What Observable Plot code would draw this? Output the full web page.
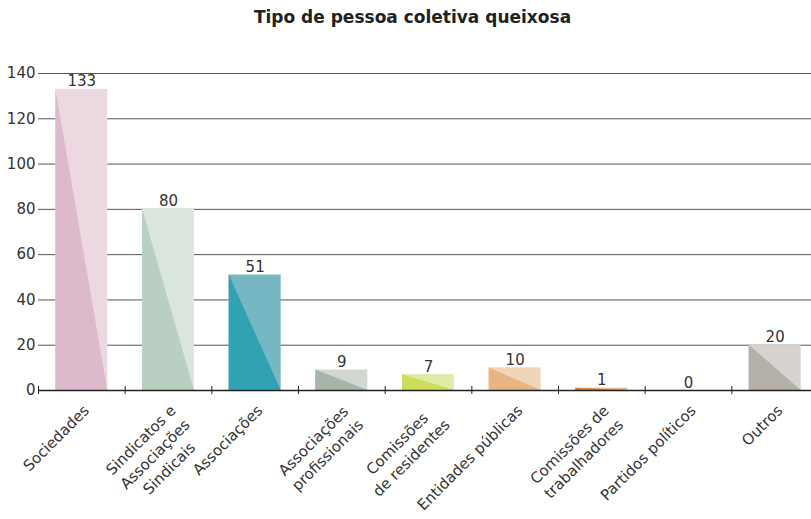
<!DOCTYPE html>
<html>
<head>
<meta charset="utf-8">
<script src="https://cdn.jsdelivr.net/npm/d3@7"></script>
<script src="https://cdn.jsdelivr.net/npm/@observablehq/plot@0.6"></script>
<style>
  html, body { margin: 0; padding: 0; background: #fff; overflow: hidden; }
  #title { font-family: "DejaVu Sans", sans-serif; font-weight: 700; font-size: 17px; color: #222;
           height: 35px; line-height: 35px; text-align: center; padding-left: 14px; box-sizing: border-box; }
</style>
</head>
<body>
<div id="title">Tipo de pessoa coletiva queixosa</div>
<div id="chart"></div>
<script>
const categories = [
  "Sociedades",
  "Sindicatos e\nAssociações\nSindicais",
  "Associações",
  "Associações\nprofissionais",
  "Comissões\nde residentes",
  "Entidades públicas",
  "Comissões de\ntrabalhadores",
  "Partidos políticos",
  "Outros"
];
const values = [133, 80, 51, 9, 7, 10, 1, 0, 20];
const darkColors  = ["#dcbacb", "#b8cfc2", "#31a2b1", "#a6b4a9", "#cddc5b", "#e8b482", "#d9843a", "#bbbbbb", "#b4afa9"];
const lightColors = ["#ecd8e1", "#dae5de", "#77b6c3", "#d0d8d1", "#e2eaa9", "#f1d5b9", "#ebb985", "#dddddd", "#d6d3cf"];
const yTicks = [0, 20, 40, 60, 80, 100, 120, 140];

const FONT = "'DejaVu Sans', sans-serif";
const FS = 15;
const pad = 0.2;
const xDomain = [0, categories.length], xRange = [38, 818];
const yDomain = [0, 140];
const W = 811, H = 484, mT = 38, mB = 129;

const bars = categories.map((c, i) => ({c, i, v: values[i], dark: darkColors[i], light: lightColors[i]}));
const triangles = bars.flatMap(d => [
  {c: d.c, x: d.i + pad, top: d.v, dark: d.dark},
  {c: d.c, x: d.i + 1 - pad, top: 0, dark: d.dark}
]);
const boundaries = d3.range(categories.length + 1);

// Rotated category labels: lines centred within a block whose end sits just before the band centre
const xs = Plot.scale({x: {domain: xDomain, range: xRange}});
const ys = Plot.scale({y: {domain: yDomain, range: [H - mB, mT]}});
const ctx = document.createElement("canvas").getContext("2d");
ctx.font = `${FS}px ${FONT}`;
const gap = 9, perpTop = 10, lineStep = 20;
const s2 = Math.SQRT1_2;
const labelLines = bars.flatMap(d => {
  const lines = d.c.split("\n");
  const maxW = d3.max(lines, l => ctx.measureText(l).width);
  const px = xs.apply(d.i + 0.5), py = ys.apply(0);
  return lines.map((text, k) => {
    const along = -(gap + maxW / 2);
    const perp = perpTop + k * lineStep;
    const X = px + along * s2 + perp * s2;
    const Y = py - along * s2 + perp * s2;
    return {text, x: xs.invert(X), y: ys.invert(Y)};
  });
});

const chart = Plot.plot({
  width: W,
  height: H,
  marginLeft: 38,
  marginRight: 0,
  marginTop: mT,
  marginBottom: mB,
  style: {fontFamily: FONT, fontSize: FS + "px", color: "#333", background: "#fff"},
  color: {type: "identity"},
  x: {domain: xDomain, range: xRange, axis: null},
  y: {domain: yDomain, ticks: yTicks, tickSize: 0, tickPadding: 3, label: null},
  marks: [
    Plot.ruleY(yTicks.filter(t => t > 0), {stroke: "#555", strokeWidth: 1}),
    Plot.rectY(bars, {x1: d => d.i + pad, x2: d => d.i + 1 - pad, y: "v", fill: "light"}),
    Plot.areaY(triangles, {x: "x", y1: () => 0, y2: "top", z: "c", fill: "dark", curve: "linear"}),
    Plot.ruleY([0], {stroke: "#222", strokeWidth: 1.3}),
    Plot.ruleX(boundaries, {x: d => d, y1: () => 0, y2: () => 0, insetTop: 4, insetBottom: 4, stroke: "#222"}),
    Plot.text(bars, {x: d => d.i + 0.5, y: "v", text: d => String(d.v), lineAnchor: "bottom", dy: -3, fontSize: FS, fill: "#333"}),
    Plot.text(labelLines, {x: "x", y: "y", text: "text", rotate: -45, textAnchor: "middle", lineAnchor: "top",
                           fontSize: FS, fill: "#333"})
  ]
});
document.getElementById("chart").appendChild(chart);
</script>
</body>
</html>
